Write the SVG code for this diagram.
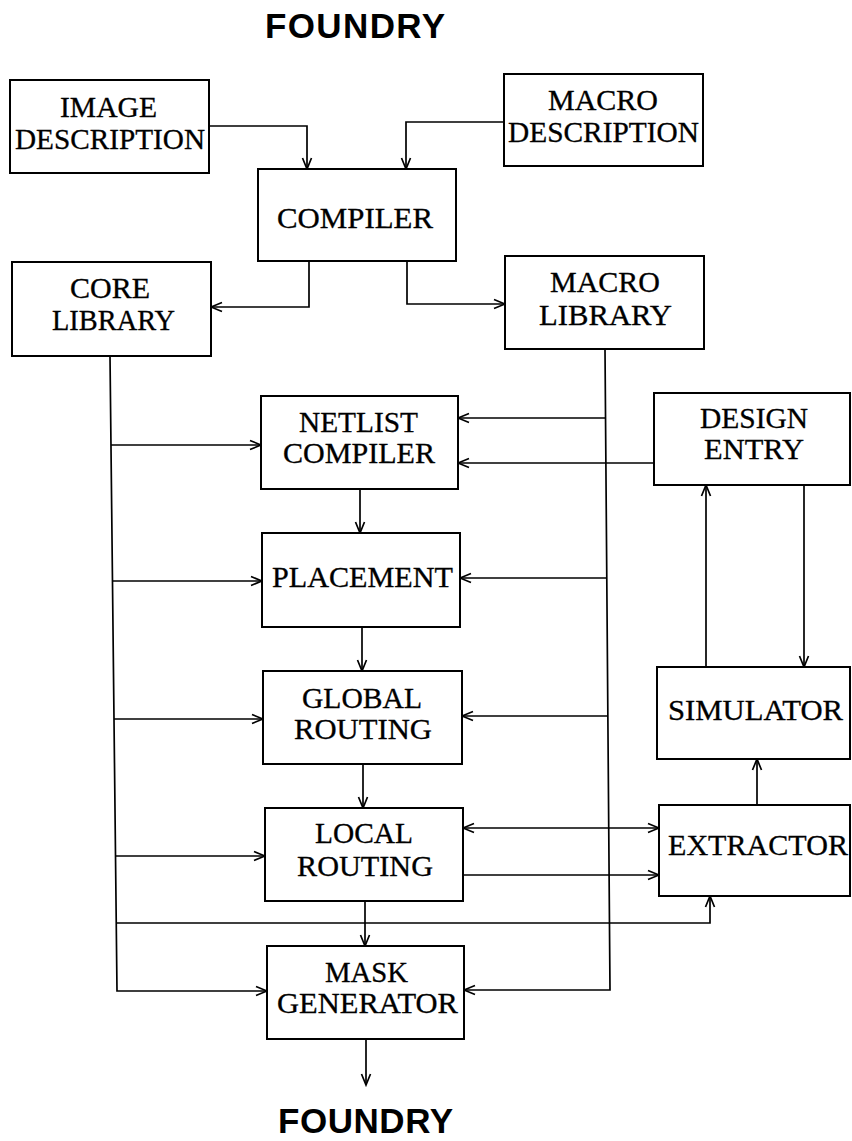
<svg xmlns="http://www.w3.org/2000/svg" width="852" height="1141" viewBox="0 0 852 1141">
<defs>
<marker id="ah" markerUnits="userSpaceOnUse" markerWidth="14" markerHeight="12" refX="12" refY="6" orient="auto-start-reverse" viewBox="0 0 14 12">
<path d="M1,1.5 L12,6 L1,10.5" fill="none" stroke="#000" stroke-width="1.7"/>
</marker>
<style>
.box{fill:#fff;stroke:#000;stroke-width:2}
.t{font-family:"Liberation Serif","Times New Roman",serif;font-size:29px;fill:#000;stroke:#000;stroke-width:0.3}
.f{font-family:"Liberation Sans",Arial,sans-serif;font-size:35px;font-weight:bold;fill:#000}
.c{fill:none;stroke:#000;stroke-width:1.7}
.a{marker-end:url(#ah)}
</style>
</defs>
<rect width="852" height="1141" fill="#fff"/>
<text class="f" x="265" y="38" textLength="180">FOUNDRY</text>
<text class="f" x="278" y="1133" textLength="175">FOUNDRY</text>
<g id="connectors">
<path class="c a" d="M209,126 H307 V169"/>
<path class="c a" d="M504,122 H406 V169"/>
<path class="c a" d="M309,261 V307 H211"/>
<path class="c a" d="M407,261 V304 H505"/>
<path class="c a" d="M110,356 L117,991 H267"/>
<path class="c a" d="M111,445 H261"/>
<path class="c a" d="M112,581 H262"/>
<path class="c a" d="M114,719 H263"/>
<path class="c a" d="M115,856 H265"/>
<path class="c a" d="M605,349 L610,990 H464"/>
<path class="c a" d="M606,418 H458"/>
<path class="c a" d="M607,578 H460"/>
<path class="c a" d="M608,716 H462"/>
<path class="c a" d="M654,463 H458"/>
<path class="c a" d="M360,489 V533"/>
<path class="c a" d="M362,627 V671"/>
<path class="c a" d="M363,764 V808"/>
<path class="c a" d="M365,901 V946"/>
<path class="c a" d="M366,1039 V1085"/>
<path class="c a" d="M706,667 V485"/>
<path class="c a" d="M804,485 V667"/>
<path class="c a" d="M757,805 V759"/>
<path class="c a" d="M463,828 H659" marker-start="url(#ah)"/>
<path class="c a" d="M463,875 H659"/>
<path class="c a" d="M116,923 H710 V896"/>
</g>
<g id="image-description">
<rect class="box" x="10" y="80" width="199" height="93"/>
<text class="t" x="60" y="117" textLength="97" lengthAdjust="spacingAndGlyphs">IMAGE</text>
<text class="t" x="15" y="149" textLength="190" lengthAdjust="spacingAndGlyphs">DESCRIPTION</text>
</g>
<g id="macro-description">
<rect class="box" x="504" y="74" width="199" height="92"/>
<text class="t" x="548" y="110" textLength="110" lengthAdjust="spacingAndGlyphs">MACRO</text>
<text class="t" x="508" y="142" textLength="191" lengthAdjust="spacingAndGlyphs">DESCRIPTION</text>
</g>
<g id="compiler">
<rect class="box" x="258" y="169" width="198" height="92"/>
<text class="t" x="277" y="228" textLength="156" lengthAdjust="spacingAndGlyphs">COMPILER</text>
</g>
<g id="core-library">
<rect class="box" x="12" y="262" width="199" height="94"/>
<text class="t" x="70" y="298" textLength="80" lengthAdjust="spacingAndGlyphs">CORE</text>
<text class="t" x="52" y="330" textLength="123" lengthAdjust="spacingAndGlyphs">LIBRARY</text>
</g>
<g id="macro-library">
<rect class="box" x="505" y="256" width="199" height="93"/>
<text class="t" x="550" y="292" textLength="110" lengthAdjust="spacingAndGlyphs">MACRO</text>
<text class="t" x="539" y="325" textLength="133" lengthAdjust="spacingAndGlyphs">LIBRARY</text>
</g>
<g id="netlist-compiler">
<rect class="box" x="261" y="396" width="197" height="93"/>
<text class="t" x="299" y="432" textLength="119" lengthAdjust="spacingAndGlyphs">NETLIST</text>
<text class="t" x="283" y="463" textLength="152" lengthAdjust="spacingAndGlyphs">COMPILER</text>
</g>
<g id="placement">
<rect class="box" x="262" y="533" width="198" height="94"/>
<text class="t" x="272" y="587" textLength="181" lengthAdjust="spacingAndGlyphs">PLACEMENT</text>
</g>
<g id="global-routing">
<rect class="box" x="263" y="671" width="199" height="93"/>
<text class="t" x="302" y="708" textLength="120" lengthAdjust="spacingAndGlyphs">GLOBAL</text>
<text class="t" x="294" y="739" textLength="138" lengthAdjust="spacingAndGlyphs">ROUTING</text>
</g>
<g id="local-routing">
<rect class="box" x="265" y="808" width="198" height="93"/>
<text class="t" x="315" y="843" textLength="98" lengthAdjust="spacingAndGlyphs">LOCAL</text>
<text class="t" x="297" y="876" textLength="136" lengthAdjust="spacingAndGlyphs">ROUTING</text>
</g>
<g id="mask-generator">
<rect class="box" x="267" y="946" width="197" height="93"/>
<text class="t" x="325" y="982" textLength="83" lengthAdjust="spacingAndGlyphs">MASK</text>
<text class="t" x="277" y="1013" textLength="181" lengthAdjust="spacingAndGlyphs">GENERATOR</text>
</g>
<g id="design-entry">
<rect class="box" x="654" y="393" width="196" height="92"/>
<text class="t" x="700" y="428" textLength="108" lengthAdjust="spacingAndGlyphs">DESIGN</text>
<text class="t" x="704" y="459" textLength="100" lengthAdjust="spacingAndGlyphs">ENTRY</text>
</g>
<g id="simulator">
<rect class="box" x="657" y="667" width="193" height="92"/>
<text class="t" x="668" y="720" textLength="175" lengthAdjust="spacingAndGlyphs">SIMULATOR</text>
</g>
<g id="extractor">
<rect class="box" x="659" y="805" width="191" height="91"/>
<text class="t" x="668" y="855" textLength="180" lengthAdjust="spacingAndGlyphs">EXTRACTOR</text>
</g>
</svg>
